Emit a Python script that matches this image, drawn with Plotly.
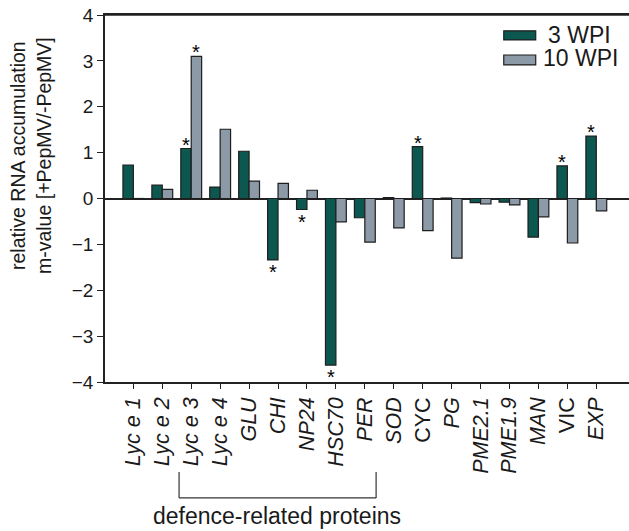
import plotly.graph_objects as go

categories = ["Lyc e 1", "Lyc e 2", "Lyc e 3", "Lyc e 4", "GLU", "CHI", "NP24", "HSC70",
              "PER", "SOD", "CYC", "PG", "PME2.1", "PME1.9", "MAN", "VIC", "EXP"]
tick_labels = ["<i>Lyc e 1</i>", "<i>Lyc e 2</i>", "<i>Lyc e 3</i>", "<i>Lyc e 4</i>", "<i>GLU</i>",
               "<i>CHI</i>", "<i>NP24</i>", "<i>HSC70</i>", "<i>PER</i>", "<i>SOD</i>", "CYC",
               "<i>PG</i>", "<i>PME2.1</i>", "<i>PME1.9</i>", "<i>MAN</i>", "VIC", "<i>EXP</i>"]
wpi3 = [0.73, 0.29, 1.09, 0.25, 1.03, -1.34, -0.24, -3.63, -0.42, 0.02, 1.13, 0.01,
        -0.09, -0.08, -0.84, 0.71, 1.36]
wpi10 = [-0.01, 0.20, 3.10, 1.51, 0.38, 0.33, 0.18, -0.51, -0.95, -0.64, -0.70, -1.30,
         -0.12, -0.14, -0.40, -0.97, -0.27]
sig3 = [False, False, True, False, False, True, True, True, False, False, True, False,
        False, False, False, True, True]
sig10 = [False, False, True, False, False, False, False, False, False, False, False, False,
         False, False, False, False, False]
y_ticks = [-4, -3, -2, -1, 0, 1, 2, 3, 4]

GREEN = "#0c5750"
GREY = "#8c99a7"
EDGE = "#1e1e1e"
FONT = "Liberation Sans, Arial, sans-serif"

fig = go.Figure()
fig.add_trace(go.Bar(x=categories, y=wpi3, name="3 WPI", marker=dict(color=GREEN, line=dict(color=EDGE, width=1.2))))
fig.add_trace(go.Bar(x=categories, y=wpi10, name="10 WPI", marker=dict(color=GREY, line=dict(color=EDGE, width=1.2))))

annotations = []
for series, sigs, shift in ((wpi3, sig3, -5.2), (wpi10, sig10, 5.2)):
    for cat, v, s in zip(categories, series, sigs):
        if s:
            annotations.append(dict(x=cat, y=v, xref="x", yref="y", text="*", showarrow=False,
                                    xshift=shift, yanchor="bottom" if v > 0 else "top",
                                    yshift=-9 if v > 0 else 1,
                                    font=dict(size=20, color="black", family=FONT)))

# y-axis title
annotations.append(dict(x=-0.141, y=0.616, xref="paper", yref="paper", showarrow=False,
                        text="relative RNA accumulation<br>m-value [+PepMV/-PepMV]",
                        textangle=-90, xanchor="center", yanchor="middle",
                        font=dict(size=19.5, color="#1a1a1a", family=FONT)))
# group label
annotations.append(dict(x=4.98, y=-0.364, xref="x", yref="paper", showarrow=False,
                        text="defence-related proteins", xanchor="center", yanchor="middle",
                        font=dict(size=23, color="#1a1a1a", family=FONT)))
# legend text
annotations.append(dict(x=0.842, y=0.945, xref="paper", yref="paper", showarrow=False,
                        text="3 WPI", xanchor="left", yanchor="middle",
                        font=dict(size=23, color="#1a1a1a", family=FONT)))
annotations.append(dict(x=0.832, y=0.884, xref="paper", yref="paper", showarrow=False,
                        text="10 WPI", xanchor="left", yanchor="middle",
                        font=dict(size=23, color="#1a1a1a", family=FONT)))

shapes = [
    # top frame line
    dict(type="line", xref="paper", yref="paper", x0=0, x1=1, y0=1, y1=1,
         line=dict(color="#222", width=1.5)),
    # bracket
    dict(type="line", xref="x", yref="paper", x0=1.58, x1=1.58, y0=-0.245, y1=-0.316,
         line=dict(color="#333", width=1.2)),
    dict(type="line", xref="x", yref="paper", x0=8.39, x1=8.39, y0=-0.245, y1=-0.316,
         line=dict(color="#333", width=1.2)),
    dict(type="line", xref="x", yref="paper", x0=1.58, x1=8.39, y0=-0.316, y1=-0.316,
         line=dict(color="#333", width=1.2)),
    # legend swatches
    dict(type="rect", xref="paper", yref="paper", x0=0.761, x1=0.822, y0=0.932, y1=0.957,
         fillcolor=GREEN, line=dict(color=EDGE, width=1.2)),
    dict(type="rect", xref="paper", yref="paper", x0=0.761, x1=0.822, y0=0.864, y1=0.891,
         fillcolor=GREY, line=dict(color=EDGE, width=1.2)),
]

fig.update_layout(
    width=629, height=531,
    margin=dict(l=105, r=0, t=15, b=149, autoexpand=False),
    paper_bgcolor="white", plot_bgcolor="white",
    barmode="group", bargap=0.28, bargroupgap=0,
    showlegend=False,
    font=dict(family=FONT, color="#1a1a1a"),
    annotations=annotations,
    shapes=shapes,
    xaxis=dict(type="category", tickmode="array", tickvals=categories, ticktext=tick_labels,
               range=[-0.98, 17.13], tickangle=-90, showline=True, mirror=True,
               linecolor="#222", linewidth=1.5, ticks="outside", ticklen=5, tickwidth=1.3,
               tickcolor="#222", showgrid=False, automargin=False,
               tickfont=dict(size=21.5, family=FONT)),
    yaxis=dict(range=[-4, 4], tickvals=y_ticks, showline=True, linecolor="#222",
               linewidth=1.5, ticks="outside", ticklen=6, tickwidth=1.3, tickcolor="#222",
               showgrid=False, zeroline=True, zerolinecolor="#222", zerolinewidth=1.5,
               automargin=False, tickfont=dict(size=19, family=FONT)),
)

fig.write_html("out.html", config={"displayModeBar": False},
               post_script="document.body.style.margin='0px';")
